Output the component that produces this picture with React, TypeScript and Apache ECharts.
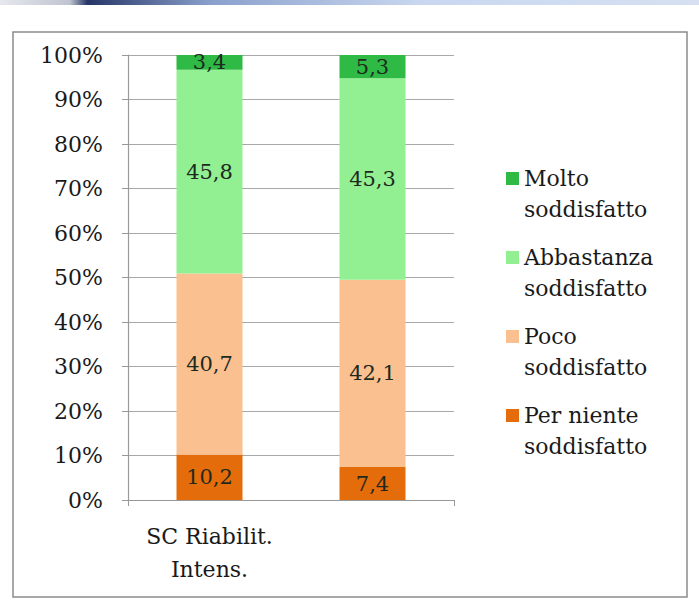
import React, { useEffect, useRef } from "react";
import * as echarts from "echarts";

const categories = ["SC Riabilit.\nIntens.", "Totale"];
const seriesNames = ["Per niente\nsoddisfatto", "Poco\nsoddisfatto", "Abbastanza\nsoddisfatto", "Molto\nsoddisfatto"];
const perNiente = [10.2, 7.4];
const poco = [40.7, 42.1];
const abbastanza = [45.8, 45.3];
const molto = [3.4, 5.3];
const colors = ["#e46c0a", "#fac090", "#92f092", "#2fba45"];
const legendOrder = [seriesNames[3], seriesNames[2], seriesNames[1], seriesNames[0]];

const FONT = "DejaVu Serif";

export default function App() {
  const ref = useRef<HTMLDivElement>(null);
  useEffect(() => {
    document.body.style.margin = "0";
    const chart = echarts.init(ref.current!, null, { renderer: "svg" });
    const values = [perNiente, poco, abbastanza, molto];
    chart.setOption({
      animation: false,
      backgroundColor: "#ffffff",
      graphic: [
        {
          type: "rect",
          shape: { x: 0, y: 0, width: 699, height: 5 },
          style: {
            fill: new echarts.graphic.LinearGradient(0, 0, 1, 0, [
              { offset: 0, color: "#e6e8ee" },
              { offset: 0.1, color: "#c0c4d0" },
              { offset: 0.125, color: "#263566" },
              { offset: 0.3, color: "#8aa0cc" },
              { offset: 0.6, color: "#c9d7ef" },
              { offset: 1, color: "#d6e0f2" },
            ]),
          },
          silent: true,
        },
        {
          type: "rect",
          shape: { x: 13, y: 32, width: 674, height: 565 },
          style: { fill: "none", stroke: "#8c8c8c", lineWidth: 1.5 },
          silent: true,
        },
      ],
      grid: { left: 128, right: 245, top: 55, bottom: 106, containLabel: false },
      legend: {
        orient: "vertical",
        left: 501,
        top: 127,
        itemWidth: 13,
        itemHeight: 13,
        itemGap: -14,
        icon: "rect",
        data: legendOrder,
        formatter: (name: string) => "\n" + name,
        textStyle: {
          fontFamily: FONT,
          fontSize: 22,
          color: "#1a1a1a",
          lineHeight: 31,
        },
      },
      xAxis: {
        type: "category",
        data: categories,
        axisLine: { lineStyle: { color: "#999", width: 1.2 } },
        axisTick: { show: true, length: 6, lineStyle: { color: "#999" } },
        axisLabel: {
          fontFamily: FONT,
          fontSize: 22,
          color: "#1a1a1a",
          lineHeight: 33,
          margin: 20,
        },
      },
      yAxis: {
        type: "value",
        min: 0,
        max: 100,
        interval: 10,
        axisLine: { show: true, lineStyle: { color: "#999", width: 1.2 } },
        axisTick: { show: true, length: 6, lineStyle: { color: "#999" } },
        splitLine: { lineStyle: { color: "#a8a8a8", width: 1.2 } },
        axisLabel: {
          formatter: "{value}%",
          fontFamily: FONT,
          fontSize: 22,
          color: "#1a1a1a",
          margin: 25,
        },
      },
      series: seriesNames.map((name, i) => ({
        name,
        type: "bar",
        stack: "total",
        barWidth: 66,
        data: values[i],
        itemStyle: { color: colors[i] },
        label: {
          show: true,
          position: "inside",
          fontFamily: FONT,
          fontSize: 21,
          color: "#1e2a1e",
          formatter: (p: any) => String(p.value).replace(".", ","),
        },
      })),
    });
    return () => chart.dispose();
  }, []);
  return (
    <div
      ref={ref}
      style={{ position: "fixed", left: 0, top: 0, width: 699, height: 606 }}
    />
  );
}
